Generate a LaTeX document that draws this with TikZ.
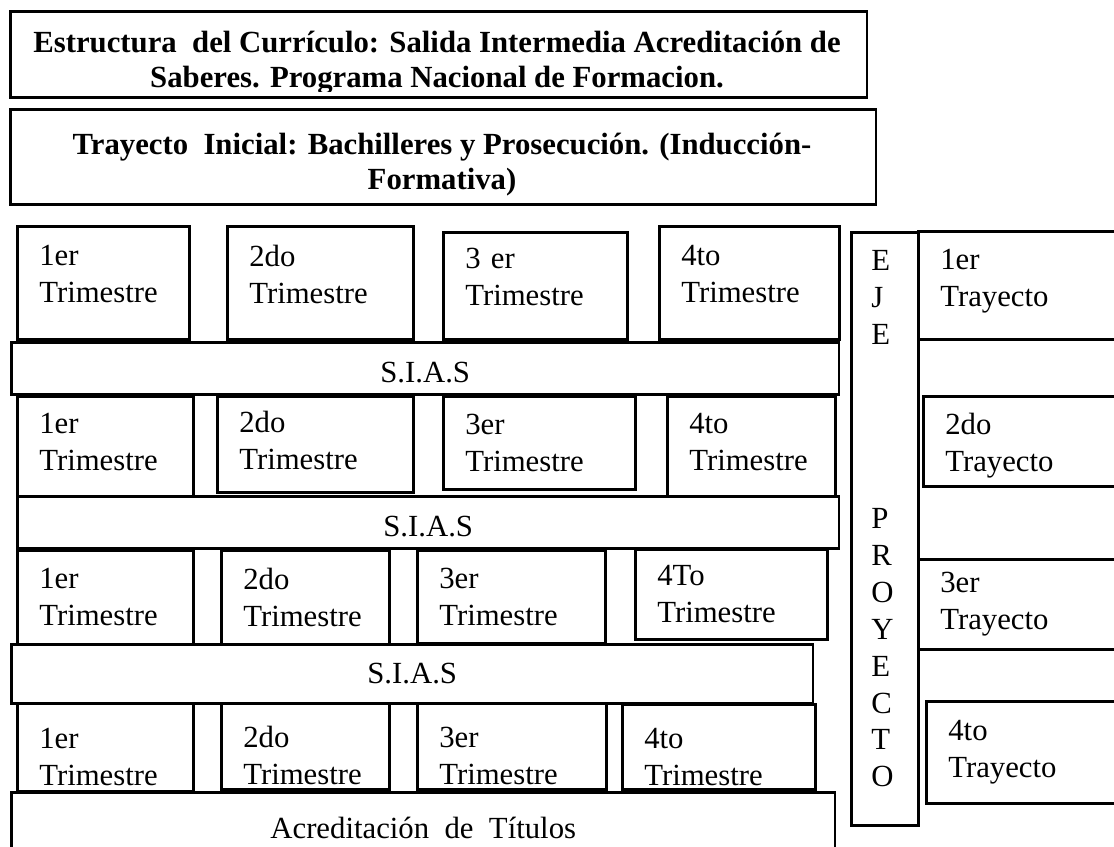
\documentclass[tikz,border=0pt]{standalone}
\usepackage{fontspec}
\setmainfont{Liberation Serif}
\begin{document}
\begin{tikzpicture}[x=0.02cm, y=-0.02cm, font=\fontsize{17.5}{21}\selectfont,
    caja/.style={draw, line width=1.5pt, anchor=north west, align=left, inner xsep=0.44cm, inner ysep=0pt},
    arriba/.style={text depth=31pt},
    medio/.style={text depth=25.8pt},
    abajo/.style={text height=23pt},
    barra/.style={draw, line width=1.5pt, anchor=north west, inner sep=0pt},
    negrita/.style={font=\fontsize{17.5}{20}\selectfont\bfseries, align=center, inner sep=0pt}]
    \useasboundingbox (0,0) rectangle (1114,846);
    \clip (0,0) rectangle (1114,846);
    % titulos
    \node[barra, minimum width=17.14cm, minimum height=1.72cm] (tit1) at (9,10) {};
    \begin{scope}
        \clip (9,10) rectangle (866,91);
        \node[negrita] (tit1txt) at (437,63) {Estructura\ \ del Currículo: Salida Intermedia Acreditación de\\Saberes. Programa Nacional de Formacion.};
    \end{scope}
    \node[barra, minimum width=17.32cm, minimum height=1.9cm] (tit2) at (9,108) {};
    \node[negrita] (tit2txt) at (442,165) {Trayecto\ \ Inicial: Bachilleres y Prosecución. (Inducción-\\Formativa)};
    % primer bloque
    \node[caja, arriba, text width=2.56cm, minimum height=2.26cm] (t11) at (16,225) {1er\\Trimestre};
    \node[caja, arriba, text width=2.84cm, minimum height=2.26cm] (t12) at (226,225) {2do\\Trimestre};
    \node[caja, arriba, text width=2.80cm, minimum height=2.14cm] (t13) at (442,231) {3 er\\Trimestre};
    \node[caja, arriba, text width=2.72cm, minimum height=2.26cm] (t14) at (658,225) {4to\\Trimestre};
    \node[barra, text height=15.9pt, minimum width=16.56cm, minimum height=1.04cm] (sias1) at (10,341) {S.I.A.S};
    % segundo bloque
    \node[caja, medio, text width=2.64cm, minimum height=2.0cm] (t21) at (16,395) {1er\\Trimestre};
    \node[caja, medio, text width=3.04cm, minimum height=1.92cm] (t22) at (216,395) {2do\\Trimestre};
    \node[caja, text width=2.96cm, minimum height=1.86cm] (t23) at (442,395) {3er\\Trimestre};
    \node[caja, medio, text width=2.48cm, minimum height=2.0cm] (t24) at (666,395) {4to\\Trimestre};
    \node[barra, text height=15.9pt, minimum width=16.44cm, minimum height=1.04cm] (sias2) at (16,495) {S.I.A.S};
    % tercer bloque
    \node[caja, text width=2.64cm, minimum height=1.88cm] (t31) at (16,549) {1er\\Trimestre};
    \node[caja, text width=2.48cm, minimum height=1.88cm] (t32) at (220,549) {2do\\Trimestre};
    \node[caja, text width=2.88cm, minimum height=1.86cm] (t33) at (416,549) {3er\\Trimestre};
    \node[caja, text width=2.96cm, minimum height=1.80cm] (t34) at (634,548) {4To\\Trimestre};
    \node[barra, minimum width=16.04cm, minimum height=1.18cm] (sias3) at (10,643) {S.I.A.S};
    % cuarto bloque
    \node[caja, abajo, text width=2.64cm, minimum height=1.76cm] (t41) at (16,702) {1er\\Trimestre};
    \node[caja, abajo, text width=2.48cm, minimum height=1.72cm] (t42) at (220,702) {2do\\Trimestre};
    \node[caja, abajo, text width=2.90cm, minimum height=1.72cm] (t43) at (416,702) {3er\\Trimestre};
    \node[caja, abajo, text width=2.98cm, minimum height=1.70cm] (t44) at (621,703) {4to\\Trimestre};
    \node[barra, minimum width=16.48cm, minimum height=1.44cm] (acred) at (10,791) {Acreditación\ \ de\ \ Títulos};
    % eje proyecto
    \node[barra, minimum width=1.34cm, minimum height=11.86cm] (eje) at (850,231) {};
    \node[anchor=north west, align=left, inner sep=0pt] (ejetxt) at ([xshift=0.42cm, yshift=-0.38cm]eje.north west) {E\\J\\E};
    \node[anchor=south west, align=left, inner sep=0pt] (proytxt) at ([xshift=0.42cm, yshift=0.78cm]eje.south west) {P\\R\\O\\Y\\E\\C\\T\\O};
    % trayectos
    \node[caja, text depth=30pt, text width=3.6cm, minimum height=2.16cm] (y1) at (917,230) {1er\\Trayecto};
    \node[caja, text height=17.5pt, text width=3.6cm, minimum height=1.8cm] (y2) at (922,395) {2do\\Trayecto};
    \node[caja, text width=3.6cm, minimum height=1.8cm] (y3) at (917,558) {3er\\Trayecto};
    \node[caja, text width=3.6cm, minimum height=2.04cm] (y4) at (925,700) {4to\\Trayecto};
\end{tikzpicture}
\end{document}
